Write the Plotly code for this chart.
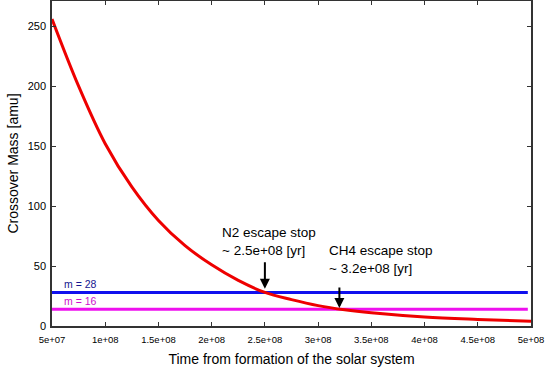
import plotly.graph_objects as go

# Data
time_yr = [5e7, 7.5e7, 1e8, 1.25e8, 1.5e8, 1.75e8, 2e8, 2.25e8, 2.5e8,
           2.75e8, 3e8, 3.25e8, 3.5e8, 4e8, 4.5e8, 5e8]
crossover_mass = [256, 200, 152, 116, 88, 67, 51, 38, 28,
                  22, 17, 13.5, 11, 7.5, 5.5, 4]
line_x = [5e7, 4.97e8]
m28 = [28, 28]
m16 = [14, 14]

xtick_vals = [5e7, 1e8, 1.5e8, 2e8, 2.5e8, 3e8, 3.5e8, 4e8, 4.5e8, 5e8]
xtick_text = ["5e+07", "1e+08", "1.5e+08", "2e+08", "2.5e+08", "3e+08",
              "3.5e+08", "4e+08", "4.5e+08", "5e+08"]
ytick_vals = [0, 50, 100, 150, 200, 250]

n2_stop = 2.5e8
ch4_stop = 3.2e8

FONT = "Liberation Sans, Arial, sans-serif"

fig = go.Figure()
fig.add_trace(go.Scatter(x=line_x, y=m28, mode="lines",
                         line=dict(color="#1010ee", width=3), showlegend=False))
fig.add_trace(go.Scatter(x=line_x, y=m16, mode="lines",
                         line=dict(color="#ee10ee", width=3), showlegend=False))
fig.add_trace(go.Scatter(x=time_yr, y=crossover_mass, mode="lines",
                         line=dict(color="#ee0000", width=3, shape="spline"),
                         showlegend=False))

axis_common = dict(showgrid=False, zeroline=False, showline=True,
                   linecolor="#333333", linewidth=1.5, mirror="ticks",
                   ticks="inside", ticklen=4, tickcolor="#333333",
                   tickwidth=1, automargin=False)

fig.update_layout(
    width=548, height=371,
    margin=dict(l=52, r=17, t=1, b=45),
    paper_bgcolor="white", plot_bgcolor="white",
    font=dict(family=FONT, color="black"),
    xaxis=dict(range=[5e7, 5e8], tickvals=xtick_vals, ticktext=xtick_text,
               tickfont=dict(size=9.5), ticklabelstandoff=4,
               title=dict(text="Time from formation of the solar system",
                          font=dict(size=14), standoff=10),
               **axis_common),
    yaxis=dict(range=[0, 271], tickvals=ytick_vals,
               tickfont=dict(size=11), ticklabelstandoff=2,
               title=dict(text="Crossover Mass [amu]",
                          font=dict(size=14), standoff=6),
               **axis_common),
)

# line labels
fig.add_annotation(x=0.021, y=28, xref="paper", yref="y", text="m = 28",
                   showarrow=False, xanchor="left", yanchor="bottom",
                   font=dict(size=10.5, color="#151590"))
fig.add_annotation(x=0.021, y=14, xref="paper", yref="y", text="m = 16",
                   showarrow=False, xanchor="left", yanchor="bottom",
                   font=dict(size=10.5, color="#cc10cc"))

# escape-stop arrows
fig.add_annotation(x=n2_stop, y=31, text="", showarrow=True, arrowhead=2,
                   arrowsize=1, arrowwidth=2, arrowcolor="black",
                   ax=0, ay=-28, standoff=0)
fig.add_annotation(x=ch4_stop, y=15, text="", showarrow=True, arrowhead=2,
                   arrowsize=1, arrowwidth=2, arrowcolor="black",
                   ax=0, ay=-22, standoff=0)

# escape-stop texts
fig.add_annotation(x=2.08e8, y=55, text="N2 escape stop<br>~ 2.5e+08 [yr]",
                   showarrow=False, xanchor="left", yanchor="bottom",
                   align="left", font=dict(size=13.5))
fig.add_annotation(x=3.08e8, y=40, text="CH4 escape stop<br>~ 3.2e+08 [yr]",
                   showarrow=False, xanchor="left", yanchor="bottom",
                   align="left", font=dict(size=13.5))

fig.write_html("out.html",
               config={"displayModeBar": False},
               post_script="document.body.style.margin='0px';"
                           "document.body.style.overflow='hidden';")
